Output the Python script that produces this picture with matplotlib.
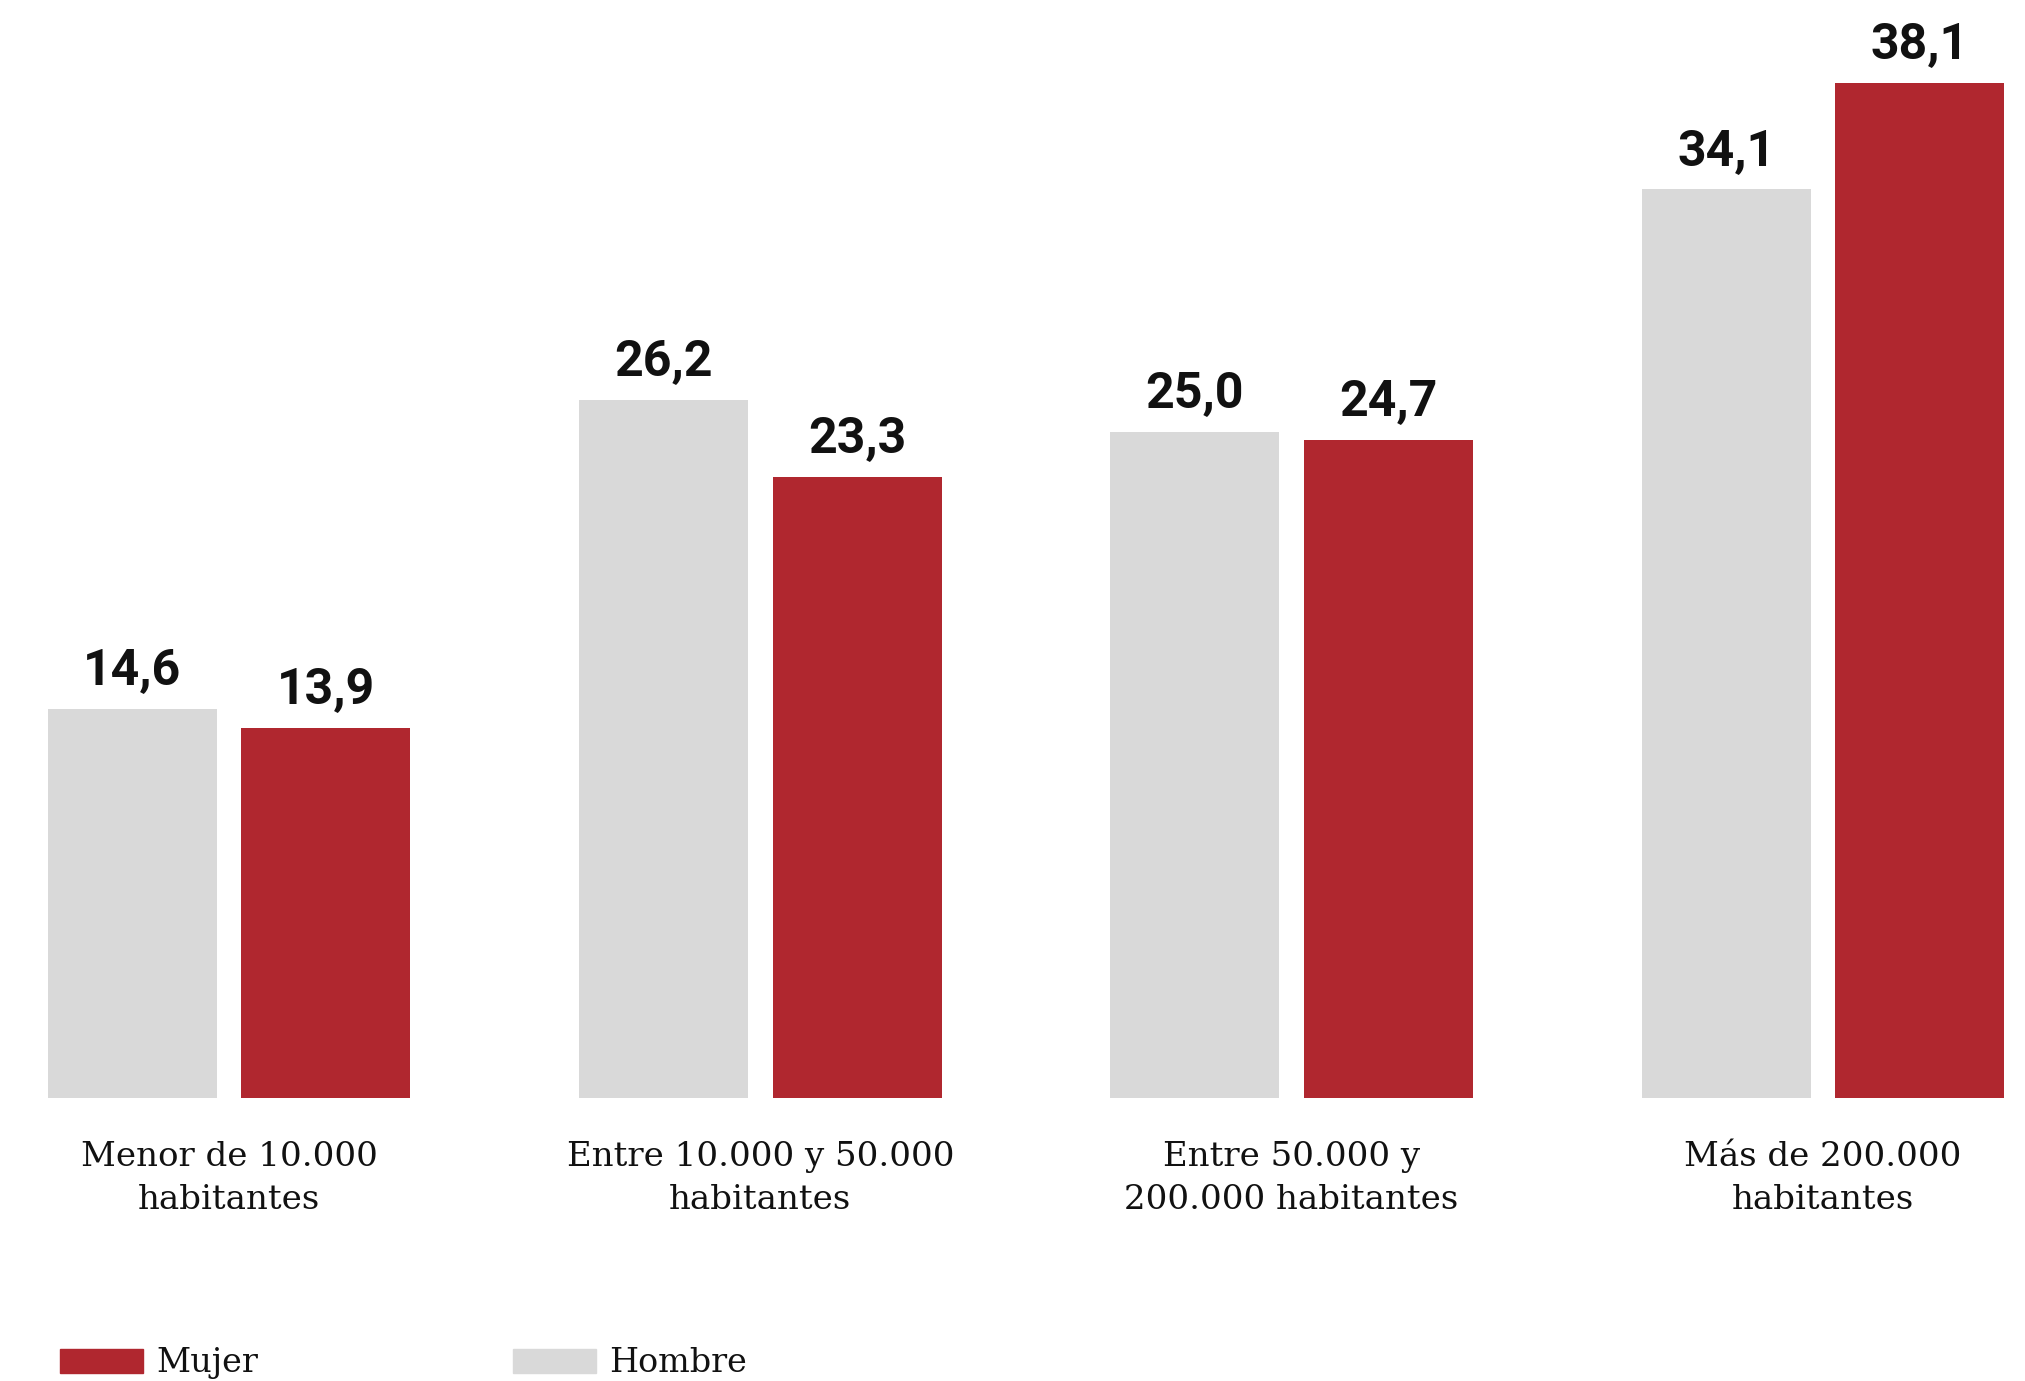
import numpy as np
import matplotlib
matplotlib.use('Agg')
import matplotlib.pyplot as plt
from matplotlib.patches import Rectangle

categories = ['Menor de 10.000\nhabitantes',
              'Entre 10.000 y 50.000\nhabitantes',
              'Entre 50.000 y\n200.000 habitantes',
              'Más de 200.000\nhabitantes']
series_names = ['Mujer', 'Hombre']
hombre = [14.6, 26.2, 25.0, 34.1]
mujer = [13.9, 23.3, 24.7, 38.1]
colors = {'Hombre': '#d9d9d9', 'Mujer': '#b0272f'}

W, H = 2025, 1381
fig = plt.figure(figsize=(W / 100, H / 100), dpi=100)
ax = fig.add_axes([48 / W, 283 / H, (2004 - 48) / W, 1066 / H])

x = np.arange(len(categories))
bw = 0.318
off = 0.182
b1 = ax.bar(x - off, hombre, bw, color=colors['Hombre'])
b2 = ax.bar(x + off, mujer, bw, color=colors['Mujer'])

for bars, vals in [(b1, hombre), (b2, mujer)]:
    for b, v in zip(bars, vals):
        ax.annotate(f'{v:.1f}'.replace('.', ','),
                    (b.get_x() + b.get_width() / 2, b.get_height()),
                    xytext=(0, 17), textcoords='offset points',
                    ha='center', va='baseline', fontsize=36,
                    fontweight='bold', family='Roboto', color='#111111')

ax.set_xlim(-0.341, 3.341)
ax.set_ylim(0, 40)
ax.axis('off')

for xi, lab in zip(x, categories):
    ax.annotate(lab, (xi, 0), xytext=(0, -31), textcoords='offset points',
                ha='center', va='top', fontsize=24.5, family='DejaVu Serif',
                color='#111111', linespacing=1.45)

# legend drawn by hand along the bottom
leg_x = [60, 513]
for name, lx in zip(series_names, leg_x):
    fig.add_artist(Rectangle((lx / W, (H - 1373) / H), 83 / W, 24 / H,
                             transform=fig.transFigure, color=colors[name]))
    fig.text((lx + 96) / W, (H - 1372) / H, name, fontsize=24,
             family='DejaVu Serif', color='#111111', va='baseline')

fig.savefig('out.png', dpi=100)
